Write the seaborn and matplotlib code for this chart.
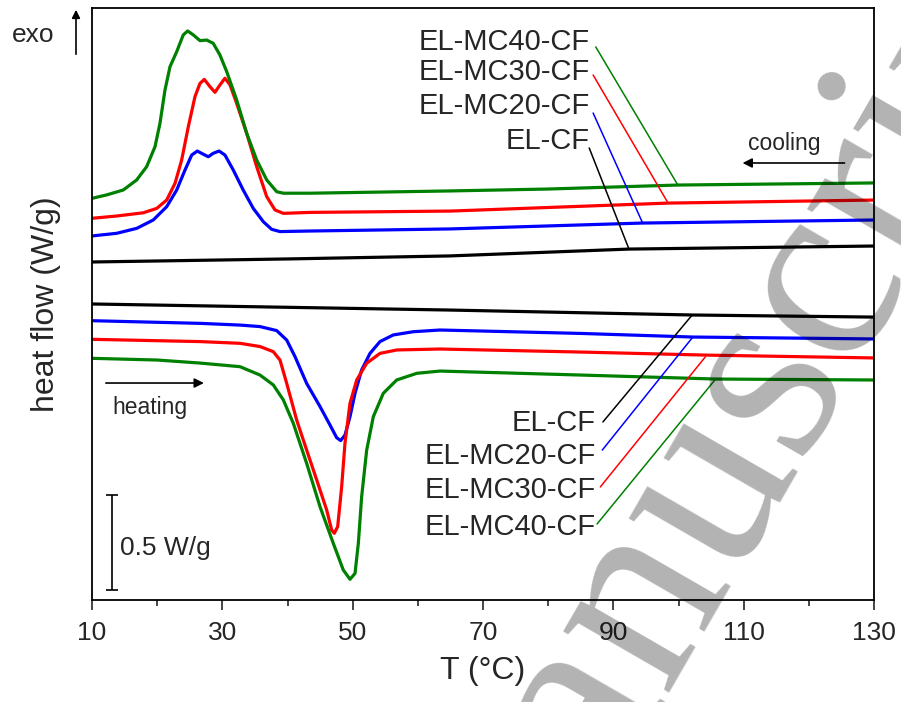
import matplotlib
matplotlib.use("Agg")
import matplotlib.pyplot as plt
import seaborn as sns

# ---- cooling curves (upper set), T in °C, heat flow in W/g (stacked) ----
cool_t_cf = [10, 40, 65, 92.4, 130]
cool_hf_cf = [1.779, 1.795, 1.811, 1.847, 1.863]

cool_t_mc20 = [10, 13.79, 16.86, 19.4, 21.46, 23.0, 24.27, 25.3, 26.16, 27.08, 27.85, 28.6, 29.49, 30.4,
               31.68, 33.2, 34.75, 36.29, 37.57, 38.85, 43.45, 65, 94.5, 130]
cool_hf_mc20 = [1.916, 1.930, 1.956, 2.000, 2.070, 2.158, 2.263, 2.342, 2.363, 2.346, 2.333, 2.351, 2.363, 2.342,
                2.263, 2.158, 2.061, 1.991, 1.951, 1.939, 1.942, 1.953, 1.984, 2.000]

cool_t_mc30 = [10, 13.79, 17.87, 19.93, 21.46, 22.74, 23.76, 24.78, 25.8, 26.57, 27.23, 28.1, 28.87, 29.64,
               30.4, 31.18, 32.2, 33.74, 35.27, 36.81, 38.08, 39.36, 43.45, 65, 98.4, 130]
cool_hf_mc30 = [2.009, 2.021, 2.038, 2.061, 2.105, 2.193, 2.316, 2.491, 2.649, 2.719, 2.740, 2.702, 2.672, 2.711,
                2.746, 2.711, 2.614, 2.456, 2.281, 2.123, 2.053, 2.035, 2.040, 2.047, 2.089, 2.105]

cool_t_mc40 = [10, 12.25, 14.8, 16.86, 18.39, 19.67, 20.43, 21.2, 21.97, 23.0, 24.0, 24.68, 25.55, 26.57, 27.6,
               28.6, 29.64, 30.67, 32.2, 33.74, 35.27, 36.81, 38.34, 39.36, 43.45, 65, 80, 99.9, 130]
cool_hf_mc40 = [2.114, 2.132, 2.158, 2.211, 2.281, 2.386, 2.509, 2.684, 2.807, 2.886, 2.974, 2.995, 2.974, 2.944,
                2.947, 2.930, 2.868, 2.781, 2.632, 2.456, 2.316, 2.211, 2.149, 2.141, 2.141, 2.153, 2.163, 2.184,
                2.195]

# ---- heating curves (lower set) ----
heat_t_cf = [10, 65, 102.1, 130]
heat_hf_cf = [1.558, 1.526, 1.500, 1.489]

heat_t_mc20 = [10, 26.6, 32.71, 35.78, 38.34, 39.88, 41.15, 42.94, 44.99, 46.52, 47.55, 48.16, 48.82, 49.59,
               50.36, 51.38, 52.66, 54.19, 56.23, 59.3, 63.4, 85, 102.2, 130]
heat_hf_mc20 = [1.470, 1.456, 1.447, 1.439, 1.418, 1.368, 1.281, 1.140, 1.018, 0.921, 0.854, 0.839, 0.868, 0.965,
                1.088, 1.211, 1.298, 1.360, 1.395, 1.412, 1.421, 1.403, 1.384, 1.374]

heat_t_mc30 = [10, 26.6, 32.71, 35.78, 37.82, 38.85, 39.88, 41.41, 42.94, 44.48, 46.01, 46.78, 47.18, 47.7,
               48.31, 48.82, 49.59, 50.62, 52.15, 54.19, 56.76, 63.4, 85, 104.1, 130]
heat_hf_mc30 = [1.372, 1.360, 1.351, 1.334, 1.307, 1.263, 1.140, 0.947, 0.789, 0.632, 0.474, 0.368, 0.351, 0.386,
                0.596, 0.825, 1.035, 1.158, 1.246, 1.298, 1.316, 1.321, 1.305, 1.289, 1.274]

heat_t_mc40 = [10, 20, 26.6, 32.71, 35.78, 37.82, 39.36, 40.89, 42.94, 44.99, 47.03, 48.56, 49.59, 50.36, 50.87,
               51.38, 52.15, 53.17, 54.7, 56.76, 59.83, 63.4, 85, 105.7, 130]
heat_hf_mc40 = [1.272, 1.263, 1.247, 1.228, 1.184, 1.132, 1.053, 0.930, 0.719, 0.491, 0.298, 0.158, 0.109, 0.140,
                0.298, 0.544, 0.789, 0.965, 1.088, 1.158, 1.193, 1.205, 1.184, 1.163, 1.158]

names = ["EL-CF", "EL-MC20-CF", "EL-MC30-CF", "EL-MC40-CF"]
colors = ["black", "blue", "red", "green"]

# label anchor (right end) and leader line end on curve
cool_label_y = [2.416, 2.600, 2.779, 2.937]
cool_line_start = [(86.3, 2.379), (86.9, 2.563), (86.9, 2.763), (87.3, 2.911)]
cool_line_end = [(92.4, 1.847), (94.5, 1.984), (98.4, 2.089), (99.9, 2.184)]

heat_label_y = [0.932, 0.758, 0.579, 0.384]
heat_line_start = [(88.4, 0.937), (88.3, 0.789), (88.0, 0.595), (87.5, 0.400)]
heat_line_end = [(102.1, 1.500), (102.2, 1.384), (104.1, 1.279), (105.7, 1.163)]

sns.set_theme(style="ticks")
plt.rcParams["font.family"] = ["Liberation Sans", "DejaVu Sans"]
plt.rcParams["axes.linewidth"] = 1.3

fig = plt.figure(figsize=(9.01, 7.02), dpi=100)
ax = fig.add_axes([92 / 901, 1 - 600 / 702, 782 / 901, 592 / 702])

cool = [(cool_t_cf, cool_hf_cf), (cool_t_mc20, cool_hf_mc20), (cool_t_mc30, cool_hf_mc30), (cool_t_mc40, cool_hf_mc40)]
heat = [(heat_t_cf, heat_hf_cf), (heat_t_mc20, heat_hf_mc20), (heat_t_mc30, heat_hf_mc30), (heat_t_mc40, heat_hf_mc40)]

for (t, hf), c in zip(cool, colors):
    sns.lineplot(x=t, y=hf, ax=ax, color=c, lw=2.3)
for (t, hf), c in zip(heat, colors):
    sns.lineplot(x=t, y=hf, ax=ax, color=c, lw=2.3)

# labels with leader lines
for i in range(4):
    ax.text(86.4, cool_label_y[i], names[i], ha="right", va="center", fontsize=21)
    ax.plot([cool_line_start[i][0], cool_line_end[i][0]], [cool_line_start[i][1], cool_line_end[i][1]],
            color=colors[i], lw=1.1)
    ax.text(87.3, heat_label_y[i], names[i], ha="right", va="center", fontsize=21)
    ax.plot([heat_line_start[i][0], heat_line_end[i][0]], [heat_line_start[i][1], heat_line_end[i][1]],
            color=colors[i], lw=1.1)

# cooling / heating arrows
ax.text(116.3, 2.405, "cooling", ha="center", va="center", fontsize=16.5)
ax.annotate("", xy=(109.4, 2.30), xytext=(125.9, 2.30),
            arrowprops=dict(arrowstyle="-|>", color="black", lw=1.2, mutation_scale=14))
ax.text(18.9, 1.011, "heating", ha="center", va="center", fontsize=16.5)
ax.annotate("", xy=(27.6, 1.142), xytext=(11.7, 1.142),
            arrowprops=dict(arrowstyle="-|>", color="black", lw=1.2, mutation_scale=14))

# scale bar
ax.errorbar([13.07], [0.303], yerr=[0.25], color="black", capsize=4, elinewidth=1.2, capthick=1.2)
ax.text(14.3, 0.274, "0.5 W/g", ha="left", va="center", fontsize=19)

# exo arrow
fig.text(33 / 901, 1 - 35 / 702, "exo", ha="center", va="center", fontsize=19)
ax.annotate("", xy=(76 / 901, 1 - 7 / 702), xytext=(76 / 901, 1 - 57 / 702),
            xycoords="figure fraction", textcoords="figure fraction",
            arrowprops=dict(arrowstyle="-|>", color="black", lw=1.2, mutation_scale=12))

ax.set_xlim(10, 130)
ax.set_ylim(0, 592 / 190)
ax.set_xticks([10, 30, 50, 70, 90, 110, 130])
ax.set_xticks([20, 40, 60, 80, 100, 120], minor=True)
ax.set_yticks([])
ax.tick_params(axis="x", which="major", direction="out", length=7, width=1.2, labelsize=19, pad=8)
ax.tick_params(axis="x", which="minor", direction="out", length=4.5, width=1.2)
ax.set_xlabel("T (°C)", fontsize=23, labelpad=8)
ax.set_ylabel("heat flow (W/g)", fontsize=23, labelpad=22)
for s in ax.spines.values():
    s.set_visible(True)
    s.set_color("black")

# manuscript watermark
fig.text(0.539, -0.422, "Manuscript", fontsize=192, family="Liberation Serif",
         color="black", alpha=0.3, rotation=60, rotation_mode="anchor", ha="left", va="baseline",
         zorder=10)

fig.savefig("out.png", dpi=100)
